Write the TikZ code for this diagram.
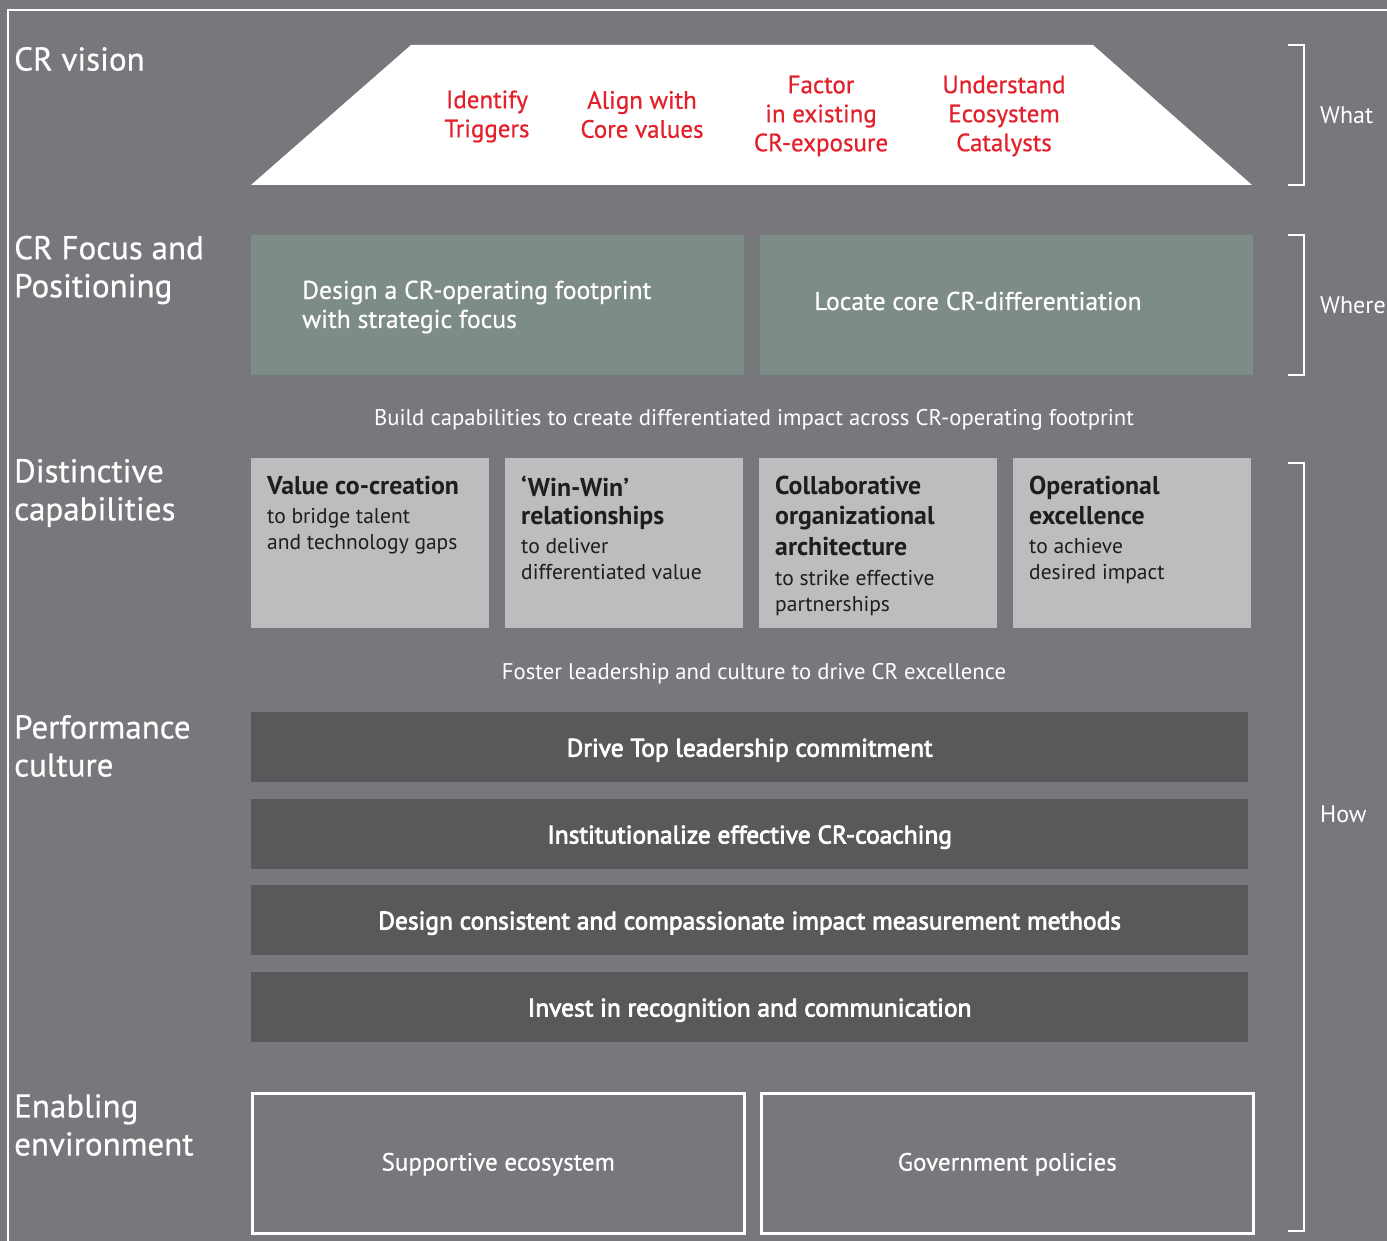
\documentclass[tikz,border=0pt]{standalone}
\usepackage{fontspec}
\setmainfont{PT Sans}
\newfontfamily\medfont[FakeBold=0.6]{PT Sans}
\newfontfamily\semfont[FakeBold=3]{PT Sans}
\newcommand\cttl{\bfseries\fontsize{25.8}{30}\selectfont}
\definecolor{bg}{HTML}{77787C}
\definecolor{teal}{HTML}{7E8C88}
\definecolor{lgray}{HTML}{BCBDBF}
\definecolor{dgray}{HTML}{58595B}
\definecolor{vred}{HTML}{E3202B}
\definecolor{dtext}{HTML}{1E1E1E}
\begin{document}
\begin{tikzpicture}[x=1pt,y=-1pt,
  lbl/.style={text=white, anchor=west, align=left, inner sep=0pt, font=\medfont\fontsize{33}{38}\selectfont},
  side/.style={text=white, anchor=west, inner sep=0pt, font=\fontsize{24}{28}\selectfont},
  redtxt/.style={text=vred, align=center, inner sep=0pt, font=\medfont\fontsize{25}{29}\selectfont},
  tealbox/.style={fill=teal, draw=none, minimum width=493pt, minimum height=140pt, anchor=north west, inner sep=0pt},
  tealtxt/.style={text=white, anchor=west, align=left, inner sep=0pt, font=\medfont\fontsize{25.7}{29}\selectfont},
  capbox/.style={fill=lgray, draw=none, minimum width=238pt, minimum height=170pt, anchor=north west, inner sep=0pt},
  captxt/.style={text=dtext, anchor=north west, align=left, inner sep=0pt, font=\fontsize{21.5}{26}\selectfont},
  bar/.style={fill=dgray, draw=none, minimum width=997pt, minimum height=70pt, anchor=north west, inner sep=0pt},
  bartxt/.style={text=white, inner sep=0pt, yshift=-3pt, font=\semfont\fontsize{25.4}{28}\selectfont},
  envtxt/.style={text=white, inner sep=0pt, yshift=-1pt, font=\medfont\fontsize{25}{28}\selectfont},
  outbox/.style={draw=white, line width=2.5pt, minimum width=492pt, minimum height=140pt, anchor=north west, inner sep=0pt},
  midtxt/.style={text=white, inner sep=0pt, font=\fontsize{22.7}{26}\selectfont},
  brk/.style={draw=white, line width=1.5pt}
]
\useasboundingbox (0,0) rectangle (1387,1241);
\fill[bg] (0,0) rectangle (1387,1241);
% frame
\coordinate (f1) at (8,1241);
\coordinate (f2) at (8,10);
\coordinate (f3) at (1387,10);
\draw[white, line width=1.5pt] (f1) -- (f2) -- (f3);

% left labels
\node[lbl] (l1) at (14,59) {CR vision};
\node[lbl] (l2) at (14,270) {CR Focus and\\Positioning};
\node[lbl] (l3) at (14,493) {Distinctive\\capabilities};
\node[lbl] (l4) at (14,746) {Performance\\culture};
\node[lbl] (l5) at (14,1125) {Enabling\\environment};

% vision trapezoid
\coordinate (t1) at (251,185);
\coordinate (t2) at (411,45);
\coordinate (t3) at (1093,45);
\coordinate (t4) at (1252,185);
\fill[white] (t1) -- (t2) -- (t3) -- (t4) -- cycle;
\node[redtxt] (r1) at (487,116.5) {Identify\\Triggers};
\node[redtxt] (r2) at (642,114.5) {Align with\\Core values};
\node[redtxt] (r3) at (821,116) {Factor\\in existing\\CR-exposure};
\node[redtxt] (r4) at (1004,116) {Understand\\Ecosystem\\Catalysts};

% focus boxes
\node[tealbox] (b1) at (251,235) {};
\node[tealbox] (b2) at (760,235) {};
\node[tealtxt] (b1t) at (302,307) {Design a CR-operating footprint\\with strategic focus};
\node[tealtxt] (b2t) at (814,301) {Locate core CR-differentiation};

\node[midtxt] (m1) at (754,420) {Build capabilities to create differentiated impact across CR-operating footprint};

% capability boxes
\node[capbox] (c1) at (251,458) {};
\node[capbox] (c2) at (505,458) {};
\node[capbox] (c3) at (759,458) {};
\node[capbox] (c4) at (1013,458) {};
\node[captxt] (c1t) at (267,476) {{\cttl Value co-creation}\\[3pt]to bridge talent\\and technology gaps};
\node[captxt] (c2t) at (521,476) {{\cttl `Win-Win'}\\[2pt]{\cttl relationships}\\[3pt]to deliver\\differentiated value};
\node[captxt] (c3t) at (775,476) {{\cttl Collaborative}\\[4pt]{\cttl organizational}\\[5pt]{\cttl architecture}\\[4pt]to strike effective\\partnerships};
\node[captxt] (c4t) at (1029,476) {{\cttl Operational}\\[4pt]{\cttl excellence}\\[3pt]to achieve\\desired impact};

\node[midtxt] (m2) at (754,674) {Foster leadership and culture to drive CR excellence};

% performance bars
\node[bar] (d1) at (251,712) {};
\node[bar] (d2) at (251,799) {};
\node[bar] (d3) at (251,885) {};
\node[bar] (d4) at (251,972) {};
\node[bartxt] (d1t) at (d1.center) {Drive Top leadership commitment};
\node[bartxt] (d2t) at (d2.center) {Institutionalize effective CR-coaching};
\node[bartxt] (d3t) at (d3.center) {Design consistent and compassionate impact measurement methods};
\node[bartxt] (d4t) at (d4.center) {Invest in recognition and communication};

% enabling environment
\node[outbox] (e1) at (251,1092) {};
\node[outbox] (e2) at (760,1092) {};
\node[envtxt] (e1t) at (e1.center) {Supportive ecosystem};
\node[envtxt] (e2t) at (e2.center) {Government policies};

% right brackets
\coordinate (w1) at (1288,45);
\coordinate (w2) at (1304,45);
\coordinate (w3) at (1304,185);
\coordinate (w4) at (1288,185);
\draw[brk] (w1) -- (w2) -- (w3) -- (w4);
\coordinate (h1) at (1288,235);
\coordinate (h2) at (1304,235);
\coordinate (h3) at (1304,375);
\coordinate (h4) at (1288,375);
\draw[brk] (h1) -- (h2) -- (h3) -- (h4);
\coordinate (g1) at (1288,463);
\coordinate (g2) at (1304,463);
\coordinate (g3) at (1304,1231);
\coordinate (g4) at (1288,1231);
\draw[brk] (g1) -- (g2) -- (g3) -- (g4);
\node[side] (s1) at (1320,115) {What};
\node[side] (s2) at (1320,305) {Where};
\node[side] (s3) at (1320,814) {How};
\end{tikzpicture}
\end{document}
